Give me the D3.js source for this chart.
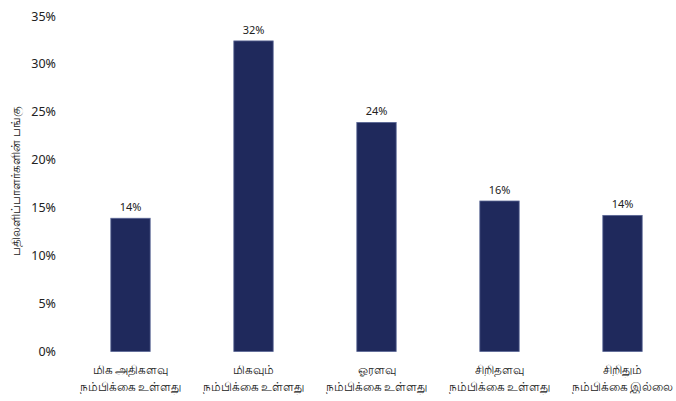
<!DOCTYPE html>
<html>
<head>
<meta charset="utf-8">
<script src="https://cdn.jsdelivr.net/npm/d3@7"></script>
<style>
  body { margin: 0; background: #fff; }
  text { font-family: "Noto Sans", "Open Sans", sans-serif; fill: #222; }
</style>
</head>
<body>
<div id="chart"></div>
<script>
// data
var categories = [
  ["மிக அதிகளவு", "நம்பிக்கை உள்ளது"],
  ["மிகவும்", "நம்பிக்கை உள்ளது"],
  ["ஓரளவு", "நம்பிக்கை உள்ளது"],
  ["சிறிதளவு", "நம்பிக்கை உள்ளது"],
  ["சிறிதும்", "நம்பிக்கை இல்லை"]
];
var values = [0.139, 0.324, 0.239, 0.157, 0.142];
var valueLabels = ["14%", "32%", "24%", "16%", "14%"];
var yTicks = [0, 0.05, 0.10, 0.15, 0.20, 0.25, 0.30, 0.35];
var yTitle = "பதிலளிப்பாளர்களின் பங்கு";

var width = 676, height = 401;

var svg = d3.select("#chart").append("svg")
  .attr("width", width)
  .attr("height", height);

var x = d3.scaleBand()
  .domain(d3.range(values.length))
  .range([69, 684])
  .paddingInner(0.68)
  .paddingOuter(0.34);

var y = d3.scaleLinear()
  .domain([0, 0.35])
  .range([351.5, 16]);

// y axis, no line, just labels
var yAxis = d3.axisLeft(y)
  .tickValues(yTicks)
  .tickSize(0)
  .tickPadding(0)
  .tickFormat(d3.format(".0%"));

var gy = svg.append("g")
  .attr("transform", "translate(56,0)")
  .call(yAxis);
gy.select(".domain").remove();
gy.selectAll("text")
  .style("font-size", "12.5px")
  .style("fill", "#222");

svg.append("text")
  .attr("transform", "translate(20,181) rotate(-90)")
  .style("text-anchor", "middle")
  .style("font-size", "11.5px")
  .text(yTitle);

// bars
svg.selectAll("rect.bar")
  .data(values)
  .enter()
  .append("rect")
  .attr("class", "bar")
  .attr("x", (d, i) => x(i))
  .attr("width", x.bandwidth())
  .attr("y", d => y(d))
  .attr("height", d => y(0) - y(d))
  .style("fill", "#1f295c")
  .style("stroke", "#5a6796")
  .style("stroke-width", 0.8);

// value labels
svg.selectAll("text.valueLabel")
  .data(values)
  .enter()
  .append("text")
  .attr("class", "valueLabel")
  .attr("x", (d, i) => x(i) + x.bandwidth() / 2)
  .attr("y", d => y(d) - 7)
  .style("text-anchor", "middle")
  .style("font-size", "11px")
  .text((d, i) => valueLabels[i]);

// category labels, two lines each
var cat = svg.selectAll("text.cat")
  .data(categories)
  .enter()
  .append("text")
  .attr("class", "cat")
  .attr("x", (d, i) => x(i) + x.bandwidth() / 2)
  .attr("y", 374)
  .style("text-anchor", "middle")
  .style("font-size", "11.5px");

cat.selectAll("tspan")
  .data(d => d)
  .enter()
  .append("tspan")
  .attr("x", function() { return this.parentNode.getAttribute("x"); })
  .attr("dy", (d, i) => i == 0 ? 0 : 17)
  .text(d => d);
</script>
</body>
</html>
